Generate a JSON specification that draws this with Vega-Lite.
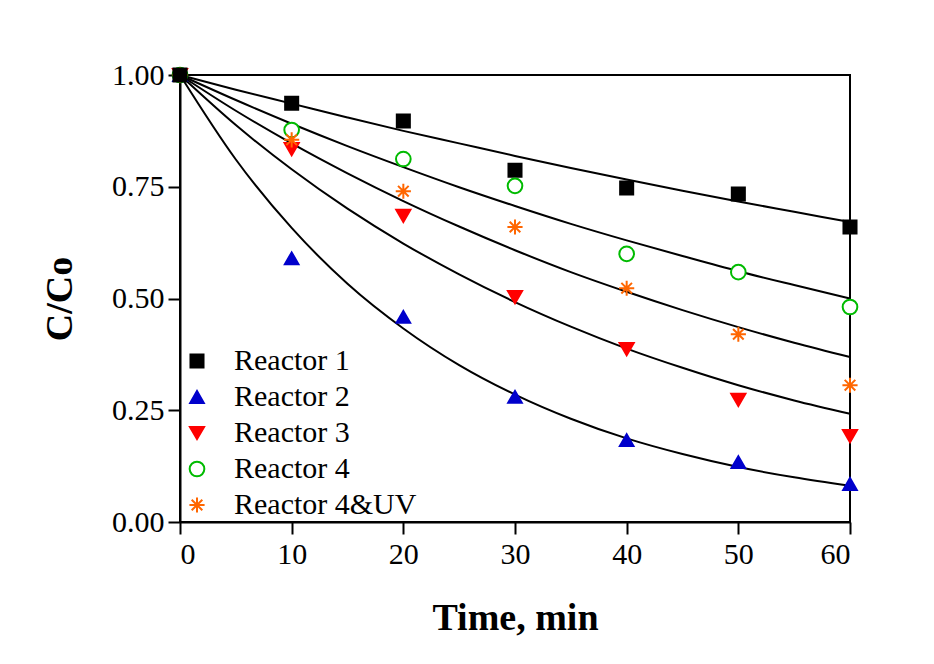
{
  "$schema": "https://vega.github.io/schema/vega-lite/v6.json",
  "autosize": "none",
  "width": 670,
  "height": 447,
  "padding": {"left": 180, "top": 75, "right": 84, "bottom": 142},
  "background": "white",
  "config": {
    "font": "Liberation Serif",
    "view": {"stroke": "black", "strokeWidth": 2},
    "axis": {
      "domainColor": "black", "domainWidth": 2, "tickColor": "black", "tickWidth": 2,
      "tickSize": 12, "grid": false, "labelFont": "Liberation Serif", "labelFontSize": 30,
      "labelColor": "black", "titleFont": "Liberation Serif", "titleFontSize": 38,
      "titleFontWeight": "bold", "titleColor": "black"
    },
    "legend": {
      "labelFont": "Liberation Serif", "labelFontSize": 30, "labelColor": "black", "labelLimit": 0
    }
  },
  "datasets": {
    "curves": [
      {"t":0,"c":1,"curve":"1"},{"t":5,"c":0.967,"curve":"1"},{"t":10,"c":0.936,"curve":"1"},{"t":15,"c":0.905,"curve":"1"},{"t":20,"c":0.875,"curve":"1"},{"t":25,"c":0.847,"curve":"1"},{"t":30,"c":0.819,"curve":"1"},{"t":35,"c":0.792,"curve":"1"},{"t":40,"c":0.766,"curve":"1"},{"t":45,"c":0.741,"curve":"1"},{"t":50,"c":0.717,"curve":"1"},{"t":55,"c":0.694,"curve":"1"},{"t":60,"c":0.671,"curve":"1"},
      {"t":0,"c":1,"curve":"4"},{"t":5,"c":0.944,"curve":"4"},{"t":10,"c":0.891,"curve":"4"},{"t":15,"c":0.841,"curve":"4"},{"t":20,"c":0.794,"curve":"4"},{"t":25,"c":0.749,"curve":"4"},{"t":30,"c":0.707,"curve":"4"},{"t":35,"c":0.667,"curve":"4"},{"t":40,"c":0.630,"curve":"4"},{"t":45,"c":0.595,"curve":"4"},{"t":50,"c":0.561,"curve":"4"},{"t":55,"c":0.530,"curve":"4"},{"t":60,"c":0.500,"curve":"4"},
      {"t":0,"c":1,"curve":"UV"},{"t":5,"c":0.920,"curve":"UV"},{"t":10,"c":0.847,"curve":"UV"},{"t":15,"c":0.780,"curve":"UV"},{"t":20,"c":0.718,"curve":"UV"},{"t":25,"c":0.661,"curve":"UV"},{"t":30,"c":0.608,"curve":"UV"},{"t":35,"c":0.559,"curve":"UV"},{"t":40,"c":0.515,"curve":"UV"},{"t":45,"c":0.474,"curve":"UV"},{"t":50,"c":0.436,"curve":"UV"},{"t":55,"c":0.401,"curve":"UV"},{"t":60,"c":0.369,"curve":"UV"},
      {"t":0,"c":1,"curve":"3"},{"t":5,"c":0.888,"curve":"3"},{"t":10,"c":0.789,"curve":"3"},{"t":15,"c":0.701,"curve":"3"},{"t":20,"c":0.623,"curve":"3"},{"t":25,"c":0.554,"curve":"3"},{"t":30,"c":0.492,"curve":"3"},{"t":35,"c":0.437,"curve":"3"},{"t":40,"c":0.388,"curve":"3"},{"t":45,"c":0.345,"curve":"3"},{"t":50,"c":0.306,"curve":"3"},{"t":55,"c":0.272,"curve":"3"},{"t":60,"c":0.242,"curve":"3"},
      {"t":0,"c":1,"curve":"2"},{"t":5,"c":0.811,"curve":"2"},{"t":10,"c":0.658,"curve":"2"},{"t":15,"c":0.533,"curve":"2"},{"t":20,"c":0.433,"curve":"2"},{"t":25,"c":0.351,"curve":"2"},{"t":30,"c":0.285,"curve":"2"},{"t":35,"c":0.231,"curve":"2"},{"t":40,"c":0.187,"curve":"2"},{"t":45,"c":0.152,"curve":"2"},{"t":50,"c":0.123,"curve":"2"},{"t":55,"c":0.100,"curve":"2"},{"t":60,"c":0.081,"curve":"2"}
    ],
    "points": [
      {"t":10,"c":0.937,"reactor":"Reactor 1"},{"t":20,"c":0.897,"reactor":"Reactor 1"},{"t":30,"c":0.787,"reactor":"Reactor 1"},{"t":40,"c":0.747,"reactor":"Reactor 1"},{"t":50,"c":0.734,"reactor":"Reactor 1"},{"t":60,"c":0.66,"reactor":"Reactor 1"},
      {"t":0,"c":1.0,"reactor":"Reactor 2"},{"t":10,"c":0.59,"reactor":"Reactor 2"},{"t":20,"c":0.459,"reactor":"Reactor 2"},{"t":30,"c":0.28,"reactor":"Reactor 2"},{"t":40,"c":0.183,"reactor":"Reactor 2"},{"t":50,"c":0.134,"reactor":"Reactor 2"},{"t":60,"c":0.085,"reactor":"Reactor 2"},
      {"t":0,"c":1.0,"reactor":"Reactor 3"},{"t":10,"c":0.834,"reactor":"Reactor 3"},{"t":20,"c":0.685,"reactor":"Reactor 3"},{"t":30,"c":0.503,"reactor":"Reactor 3"},{"t":40,"c":0.387,"reactor":"Reactor 3"},{"t":50,"c":0.273,"reactor":"Reactor 3"},{"t":60,"c":0.192,"reactor":"Reactor 3"},
      {"t":0,"c":1.0,"reactor":"Reactor 4"},{"t":10,"c":0.877,"reactor":"Reactor 4"},{"t":20,"c":0.812,"reactor":"Reactor 4"},{"t":30,"c":0.752,"reactor":"Reactor 4"},{"t":40,"c":0.60,"reactor":"Reactor 4"},{"t":50,"c":0.559,"reactor":"Reactor 4"},{"t":60,"c":0.481,"reactor":"Reactor 4"},
      {"t":0,"c":1.0,"reactor":"Reactor 4&UV"},{"t":10,"c":0.855,"reactor":"Reactor 4&UV"},{"t":20,"c":0.74,"reactor":"Reactor 4&UV"},{"t":30,"c":0.66,"reactor":"Reactor 4&UV"},{"t":40,"c":0.523,"reactor":"Reactor 4&UV"},{"t":50,"c":0.42,"reactor":"Reactor 4&UV"},{"t":60,"c":0.306,"reactor":"Reactor 4&UV"},
      {"t":0,"c":1.0,"reactor":"Reactor 1"}
    ]
  },
  "layer": [
    {
      "data": {"name": "curves"},
      "mark": {"type": "line", "color": "black", "strokeWidth": 2, "interpolate": "monotone"},
      "encoding": {
        "x": {"field": "t", "type": "quantitative", "scale": {"domain": [0, 60], "nice": false},
              "axis": {"values": [0,10,20,30,40,50,60], "title": "Time, min", "titlePadding": 30, "labelPadding": 5}},
        "y": {"field": "c", "type": "quantitative", "scale": {"domain": [0, 1], "nice": false},
              "axis": {"values": [0,0.25,0.5,0.75,1], "format": ".2f", "title": "C/Co", "titlePadding": 32, "labelPadding": 4}},
        "detail": {"field": "curve"}
      }
    },
    {
      "data": {"name": "points"},
      "mark": {"type": "point", "strokeWidth": 2, "opacity": 1},
      "encoding": {
        "x": {"field": "t", "type": "quantitative"},
        "y": {"field": "c", "type": "quantitative"},
        "shape": {"field": "reactor", "type": "nominal",
          "scale": {"domain": ["Reactor 1","Reactor 2","Reactor 3","Reactor 4","Reactor 4&UV"],
                    "range": ["square","triangle-up","triangle-down","circle","M0,-1L0,1M-1,0L1,0M-0.7,-0.7L0.7,0.7M-0.7,0.7L0.7,-0.7"]},
          "legend": {"title": null, "orient": "bottom-left", "offset": 2, "padding": 0, "labelOffset": 22, "rowPadding": 6, "symbolStrokeWidth": 2, "symbolSize": 196, "labelFont": "Liberation Serif", "labelFontSize": 30, "labelLimit": 0}},
        "stroke": {"field": "reactor", "type": "nominal",
          "scale": {"domain": ["Reactor 1","Reactor 2","Reactor 3","Reactor 4","Reactor 4&UV"],
                    "range": ["#000000","#0000cc","#ff0000","#00bb00","#ff6600"]}},
        "fill": {"field": "reactor", "type": "nominal",
          "scale": {"domain": ["Reactor 1","Reactor 2","Reactor 3","Reactor 4","Reactor 4&UV"],
                    "range": ["#000000","#0000cc","#ff0000","#ffffff","#ff6600"]}},
        "size": {"field": "reactor", "type": "nominal",
          "scale": {"domain": ["Reactor 1","Reactor 2","Reactor 3","Reactor 4","Reactor 4&UV"],
                    "range": [170, 230, 230, 150, 170]}}
      }
    }
  ]
}
